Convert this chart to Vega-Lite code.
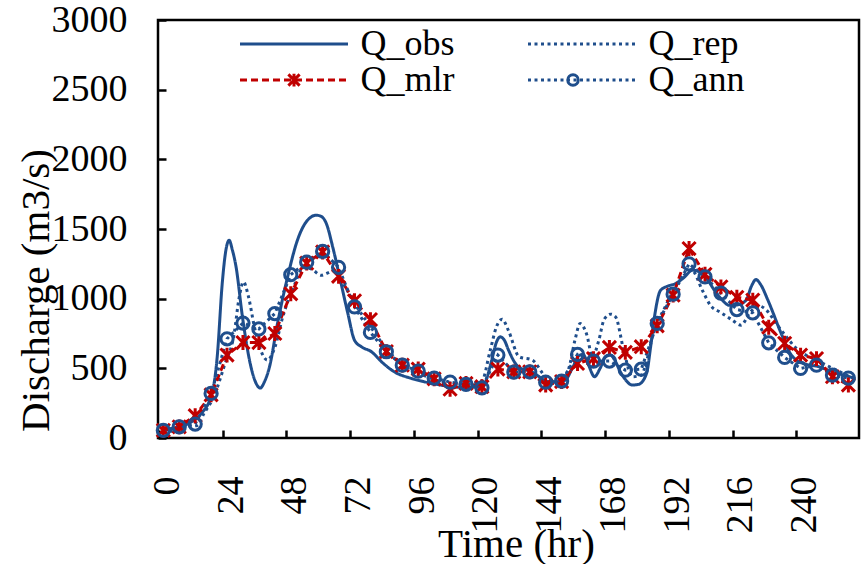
{
  "$schema": "https://vega.github.io/schema/vega-lite/v6.json",
  "width": 701,
  "height": 418,
  "autosize": {"type": "none"},
  "padding": {"left": 158, "top": 20, "right": 7, "bottom": 126},
  "background": "white",
  "config": {
    "view": {"stroke": "black", "strokeWidth": 2.5},
    "font": "Liberation Serif",
    "axis": {
      "grid": false, "domain": false,
      "tickColor": "black", "tickWidth": 2.5, "tickSize": -8,
      "labelFont": "Liberation Serif", "labelFontSize": 38, "labelColor": "black",
      "titleFont": "Liberation Serif", "titleFontWeight": "normal", "titleColor": "black"
    }
  },
  "data": {
    "values": [
      {"series":"Q_obs","hour":0,"discharge":50},{"series":"Q_obs","hour":2,"discharge":60},{"series":"Q_obs","hour":6,"discharge":78},{"series":"Q_obs","hour":10,"discharge":110},{"series":"Q_obs","hour":14,"discharge":170},{"series":"Q_obs","hour":18.4,"discharge":322},{"series":"Q_obs","hour":20.3,"discharge":583},{"series":"Q_obs","hour":22.2,"discharge":1111},{"series":"Q_obs","hour":23.5,"discharge":1340},{"series":"Q_obs","hour":24.8,"discharge":1419},{"series":"Q_obs","hour":26,"discharge":1350},{"series":"Q_obs","hour":27.4,"discharge":1228},{"series":"Q_obs","hour":29.8,"discharge":870},{"series":"Q_obs","hour":33,"discharge":511},{"series":"Q_obs","hour":35,"discharge":390},{"series":"Q_obs","hour":36.5,"discharge":358},{"series":"Q_obs","hour":38,"discharge":400},{"series":"Q_obs","hour":40,"discharge":511},{"series":"Q_obs","hour":43,"discharge":822},{"series":"Q_obs","hour":46.8,"discharge":1155},{"series":"Q_obs","hour":50.5,"discharge":1419},{"series":"Q_obs","hour":54.3,"discharge":1563},{"series":"Q_obs","hour":57.6,"discharge":1599},{"series":"Q_obs","hour":59.5,"discharge":1590},{"series":"Q_obs","hour":61.4,"discharge":1539},{"series":"Q_obs","hour":63.8,"discharge":1371},{"series":"Q_obs","hour":66.4,"discharge":1156},{"series":"Q_obs","hour":69.5,"discharge":894},{"series":"Q_obs","hour":72,"discharge":702},{"series":"Q_obs","hour":74.6,"discharge":655},{"series":"Q_obs","hour":78.4,"discharge":619},{"series":"Q_obs","hour":82.2,"discharge":547},{"series":"Q_obs","hour":87,"discharge":475},{"series":"Q_obs","hour":93,"discharge":430},{"series":"Q_obs","hour":98,"discharge":405},{"series":"Q_obs","hour":103,"discharge":385},{"series":"Q_obs","hour":108.6,"discharge":368},{"series":"Q_obs","hour":114.8,"discharge":363},{"series":"Q_obs","hour":120.4,"discharge":368},{"series":"Q_obs","hour":122,"discharge":440},{"series":"Q_obs","hour":123.7,"discharge":559},{"series":"Q_obs","hour":125.5,"discharge":690},{"series":"Q_obs","hour":126.9,"discharge":726},{"series":"Q_obs","hour":128.5,"discharge":700},{"series":"Q_obs","hour":130,"discharge":631},{"series":"Q_obs","hour":133.7,"discharge":511},{"series":"Q_obs","hour":138.8,"discharge":475},{"series":"Q_obs","hour":145,"discharge":404},{"series":"Q_obs","hour":148,"discharge":400},{"series":"Q_obs","hour":151.4,"discharge":416},{"series":"Q_obs","hour":154,"discharge":500},{"series":"Q_obs","hour":156.5,"discharge":590},{"series":"Q_obs","hour":158,"discharge":600},{"series":"Q_obs","hour":160,"discharge":530},{"series":"Q_obs","hour":162.4,"discharge":440},{"series":"Q_obs","hour":164.5,"discharge":500},{"series":"Q_obs","hour":166.5,"discharge":580},{"series":"Q_obs","hour":168.4,"discharge":595},{"series":"Q_obs","hour":170,"discharge":559},{"series":"Q_obs","hour":172,"discharge":480},{"series":"Q_obs","hour":174,"discharge":420},{"series":"Q_obs","hour":176.6,"discharge":380},{"series":"Q_obs","hour":179,"discharge":385},{"series":"Q_obs","hour":182,"discharge":464},{"series":"Q_obs","hour":183.5,"discharge":650},{"series":"Q_obs","hour":184.8,"discharge":846},{"series":"Q_obs","hour":187.3,"discharge":1061},{"series":"Q_obs","hour":190,"discharge":1090},{"series":"Q_obs","hour":193,"discharge":1109},{"series":"Q_obs","hour":196,"discharge":1150},{"series":"Q_obs","hour":199.3,"discharge":1204},{"series":"Q_obs","hour":203,"discharge":1180},{"series":"Q_obs","hour":208,"discharge":1049},{"series":"Q_obs","hour":211,"discharge":980},{"series":"Q_obs","hour":213,"discharge":953},{"series":"Q_obs","hour":216,"discharge":955},{"series":"Q_obs","hour":219.5,"discharge":989},{"series":"Q_obs","hour":221.5,"discharge":1090},{"series":"Q_obs","hour":223.2,"discharge":1137},{"series":"Q_obs","hour":225,"discharge":1100},{"series":"Q_obs","hour":227.7,"discharge":989},{"series":"Q_obs","hour":232.7,"discharge":750},{"series":"Q_obs","hour":235.7,"discharge":619},{"series":"Q_obs","hour":240.9,"discharge":535},{"series":"Q_obs","hour":247,"discharge":511},{"series":"Q_obs","hour":252,"discharge":475},{"series":"Q_obs","hour":258.4,"discharge":440},{"series":"Q_obs","hour":260,"discharge":432},
      {"series":"Q_rep","hour":0,"discharge":45},{"series":"Q_rep","hour":6,"discharge":60},{"series":"Q_rep","hour":9,"discharge":80},{"series":"Q_rep","hour":12.7,"discharge":90},{"series":"Q_rep","hour":15.4,"discharge":179},{"series":"Q_rep","hour":19,"discharge":296},{"series":"Q_rep","hour":23,"discharge":520},{"series":"Q_rep","hour":26.7,"discharge":752},{"series":"Q_rep","hour":28.5,"discharge":1000},{"series":"Q_rep","hour":30.2,"discharge":1120},{"series":"Q_rep","hour":32,"discharge":1020},{"series":"Q_rep","hour":34.3,"discharge":798},{"series":"Q_rep","hour":36.5,"discharge":640},{"series":"Q_rep","hour":39.2,"discharge":559},{"series":"Q_rep","hour":42,"discharge":650},{"series":"Q_rep","hour":45,"discharge":870},{"series":"Q_rep","hour":49,"discharge":1080},{"series":"Q_rep","hour":53,"discharge":1228},{"series":"Q_rep","hour":56,"discharge":1210},{"series":"Q_rep","hour":59.5,"discharge":1168},{"series":"Q_rep","hour":62,"discharge":1185},{"series":"Q_rep","hour":64.5,"discharge":1204},{"series":"Q_rep","hour":68,"discharge":1100},{"series":"Q_rep","hour":72,"discharge":967},{"series":"Q_rep","hour":78,"discharge":800},{"series":"Q_rep","hour":84,"discharge":640},{"series":"Q_rep","hour":90,"discharge":530},{"series":"Q_rep","hour":96,"discharge":470},{"series":"Q_rep","hour":102,"discharge":420},{"series":"Q_rep","hour":108,"discharge":395},{"series":"Q_rep","hour":114,"discharge":390},{"series":"Q_rep","hour":120,"discharge":410},{"series":"Q_rep","hour":123,"discharge":620},{"series":"Q_rep","hour":125.5,"discharge":800},{"series":"Q_rep","hour":127.6,"discharge":853},{"series":"Q_rep","hour":130,"discharge":770},{"series":"Q_rep","hour":134,"discharge":583},{"series":"Q_rep","hour":139,"discharge":559},{"series":"Q_rep","hour":144,"discharge":440},{"series":"Q_rep","hour":149,"discharge":404},{"series":"Q_rep","hour":152.5,"discharge":487},{"series":"Q_rep","hour":155,"discharge":700},{"series":"Q_rep","hour":157,"discharge":822},{"series":"Q_rep","hour":159.5,"discharge":740},{"series":"Q_rep","hour":161.6,"discharge":583},{"series":"Q_rep","hour":164,"discharge":700},{"series":"Q_rep","hour":166,"discharge":850},{"series":"Q_rep","hour":168.5,"discharge":889},{"series":"Q_rep","hour":170.3,"discharge":870},{"series":"Q_rep","hour":173.5,"discharge":620},{"series":"Q_rep","hour":176.6,"discharge":440},{"series":"Q_rep","hour":180,"discharge":450},{"series":"Q_rep","hour":182,"discharge":550},{"series":"Q_rep","hour":184.2,"discharge":726},{"series":"Q_rep","hour":189,"discharge":941},{"series":"Q_rep","hour":195.5,"discharge":1156},{"series":"Q_rep","hour":199,"discharge":1204},{"series":"Q_rep","hour":203,"discharge":1060},{"series":"Q_rep","hour":206,"discharge":953},{"series":"Q_rep","hour":210,"discharge":900},{"series":"Q_rep","hour":214,"discharge":850},{"series":"Q_rep","hour":217.6,"discharge":810},{"series":"Q_rep","hour":220.7,"discharge":894},{"series":"Q_rep","hour":224,"discharge":950},{"series":"Q_rep","hour":227,"discharge":920},{"series":"Q_rep","hour":230.8,"discharge":822},{"series":"Q_rep","hour":234.5,"discharge":730},{"series":"Q_rep","hour":238.4,"discharge":643},{"series":"Q_rep","hour":246,"discharge":559},{"series":"Q_rep","hour":253.5,"discharge":487},{"series":"Q_rep","hour":259.8,"discharge":428},
      {"series":"Q_mlr","hour":0,"discharge":55},{"series":"Q_mlr","hour":6,"discharge":80},{"series":"Q_mlr","hour":12,"discharge":160},{"series":"Q_mlr","hour":18,"discharge":310},{"series":"Q_mlr","hour":24,"discharge":595},{"series":"Q_mlr","hour":30,"discharge":685},{"series":"Q_mlr","hour":36,"discharge":685},{"series":"Q_mlr","hour":42,"discharge":750},{"series":"Q_mlr","hour":48,"discharge":1035},{"series":"Q_mlr","hour":54,"discharge":1255},{"series":"Q_mlr","hour":60,"discharge":1335},{"series":"Q_mlr","hour":66,"discharge":1160},{"series":"Q_mlr","hour":72,"discharge":985},{"series":"Q_mlr","hour":78,"discharge":850},{"series":"Q_mlr","hour":84,"discharge":620},{"series":"Q_mlr","hour":90,"discharge":523},{"series":"Q_mlr","hour":96,"discharge":495},{"series":"Q_mlr","hour":102,"discharge":425},{"series":"Q_mlr","hour":108,"discharge":350},{"series":"Q_mlr","hour":114,"discharge":392},{"series":"Q_mlr","hour":120,"discharge":368},{"series":"Q_mlr","hour":126,"discharge":495},{"series":"Q_mlr","hour":132,"discharge":475},{"series":"Q_mlr","hour":138,"discharge":475},{"series":"Q_mlr","hour":144,"discharge":380},{"series":"Q_mlr","hour":150,"discharge":405},{"series":"Q_mlr","hour":156,"discharge":535},{"series":"Q_mlr","hour":162,"discharge":570},{"series":"Q_mlr","hour":168,"discharge":650},{"series":"Q_mlr","hour":174,"discharge":615},{"series":"Q_mlr","hour":180,"discharge":655},{"series":"Q_mlr","hour":186,"discharge":805},{"series":"Q_mlr","hour":192,"discharge":1025},{"series":"Q_mlr","hour":198,"discharge":1360},{"series":"Q_mlr","hour":204,"discharge":1175},{"series":"Q_mlr","hour":210,"discharge":1085},{"series":"Q_mlr","hour":216,"discharge":1010},{"series":"Q_mlr","hour":222,"discharge":990},{"series":"Q_mlr","hour":228,"discharge":795},{"series":"Q_mlr","hour":234,"discharge":680},{"series":"Q_mlr","hour":240,"discharge":595},{"series":"Q_mlr","hour":246,"discharge":570},{"series":"Q_mlr","hour":252,"discharge":440},{"series":"Q_mlr","hour":258,"discharge":380},
      {"series":"Q_ann","hour":0,"discharge":55},{"series":"Q_ann","hour":6,"discharge":80},{"series":"Q_ann","hour":12,"discharge":100},{"series":"Q_ann","hour":18,"discharge":320},{"series":"Q_ann","hour":24,"discharge":712},{"series":"Q_ann","hour":30,"discharge":825},{"series":"Q_ann","hour":36,"discharge":783},{"series":"Q_ann","hour":42,"discharge":893},{"series":"Q_ann","hour":48,"discharge":1172},{"series":"Q_ann","hour":54,"discharge":1262},{"series":"Q_ann","hour":60,"discharge":1340},{"series":"Q_ann","hour":66,"discharge":1225},{"series":"Q_ann","hour":72,"discharge":941},{"series":"Q_ann","hour":78,"discharge":758},{"series":"Q_ann","hour":84,"discharge":619},{"series":"Q_ann","hour":90,"discharge":523},{"series":"Q_ann","hour":96,"discharge":480},{"series":"Q_ann","hour":102,"discharge":430},{"series":"Q_ann","hour":108,"discharge":401},{"series":"Q_ann","hour":114,"discharge":385},{"series":"Q_ann","hour":120,"discharge":360},{"series":"Q_ann","hour":126,"discharge":595},{"series":"Q_ann","hour":132,"discharge":473},{"series":"Q_ann","hour":138,"discharge":475},{"series":"Q_ann","hour":144,"discharge":401},{"series":"Q_ann","hour":150,"discharge":409},{"series":"Q_ann","hour":156,"discharge":600},{"series":"Q_ann","hour":162,"discharge":552},{"series":"Q_ann","hour":168,"discharge":552},{"series":"Q_ann","hour":174,"discharge":487},{"series":"Q_ann","hour":180,"discharge":494},{"series":"Q_ann","hour":186,"discharge":822},{"series":"Q_ann","hour":192,"discharge":1032},{"series":"Q_ann","hour":198,"discharge":1250},{"series":"Q_ann","hour":204,"discharge":1156},{"series":"Q_ann","hour":210,"discharge":1040},{"series":"Q_ann","hour":216,"discharge":922},{"series":"Q_ann","hour":222,"discharge":898},{"series":"Q_ann","hour":228,"discharge":683},{"series":"Q_ann","hour":234,"discharge":578},{"series":"Q_ann","hour":240,"discharge":499},{"series":"Q_ann","hour":246,"discharge":523},{"series":"Q_ann","hour":252,"discharge":452},{"series":"Q_ann","hour":258,"discharge":430}
    ]
  },
  "encoding": {
    "x": {
      "field": "hour", "type": "quantitative",
      "scale": {"domain": [-2, 262], "nice": false, "zero": false},
      "axis": {
        "values": [0, 24, 48, 72, 96, 120, 144, 168, 192, 216, 240],
        "labelAngle": 270, "tickOffset": -4.3, "labelOffset": 8.3, "labelPadding": 46,
        "title": "Time (hr)", "titleFontSize": 41, "titleX": 358, "titleY": 118,
        "titleAlign": "center", "titleBaseline": "alphabetic"
      }
    },
    "y": {
      "field": "discharge", "type": "quantitative",
      "scale": {"domain": [0, 3000], "nice": false},
      "axis": {
        "values": [0, 500, 1000, 1500, 2000, 2500, 3000], "format": "d",
        "labelPadding": 39,
        "title": "Discharge (m3/s)", "titleFontSize": 41, "titleX": -122, "titleY": 270,
        "titleAngle": 270, "titleAlign": "center", "titleBaseline": "middle"
      }
    }
  },
  "layer": [
    {
      "transform": [{"filter": "datum.series == 'Q_obs' || datum.series == 'Q_rep'"}],
      "mark": {"type": "line", "interpolate": "monotone", "strokeWidth": 3},
      "encoding": {
        "color": {"field": "series", "type": "nominal",
          "scale": {"domain": ["Q_obs", "Q_rep", "Q_mlr", "Q_ann"], "range": ["#1F4E8C", "#1F4E8C", "#C00000", "#1F4E8C"]},
          "legend": {"orient": "none", "direction": "horizontal", "legendX": 118, "legendY": 6, "columns": 2, "title": null, "symbolType": "M-9,0L9,0", "symbolSize": 144, "symbolStrokeWidth": 3, "labelFont": "Liberation Serif", "labelFontSize": 36, "labelColor": "black", "labelOffset": 48.5, "symbolOffset": 0, "columnPadding": 67, "rowPadding": 0, "padding": 0, "labelLimit": 0}},
        "strokeDash": {"field": "series", "type": "nominal",
          "scale": {"domain": ["Q_obs", "Q_rep", "Q_mlr", "Q_ann"], "range": [[1, 0], [3, 3.5], [7, 4], [3, 3.5]]},
          "legend": {"orient": "none", "direction": "horizontal", "legendX": 118, "legendY": 6, "columns": 2, "title": null, "symbolType": "M-9,0L9,0", "symbolSize": 144, "symbolStrokeWidth": 3, "labelFont": "Liberation Serif", "labelFontSize": 36, "labelColor": "black", "labelOffset": 48.5, "symbolOffset": 0, "columnPadding": 67, "rowPadding": 0, "padding": 0, "labelLimit": 0}}
      }
    },
    {
      "transform": [{"filter": "datum.series == 'Q_mlr' || datum.series == 'Q_ann'"}],
      "mark": {"type": "line", "strokeWidth": 3},
      "encoding": {
        "color": {"field": "series", "type": "nominal"},
        "strokeDash": {"field": "series", "type": "nominal"}
      }
    },
    {
      "transform": [{"filter": "datum.series == 'Q_mlr' || datum.series == 'Q_ann'"}],
      "mark": {"type": "point", "filled": false, "size": 306, "strokeWidth": 3, "opacity": 1},
      "encoding": {
        "stroke": {"field": "series", "type": "nominal",
          "scale": {"domain": ["Q_obs", "Q_rep", "Q_mlr", "Q_ann", "none"], "range": ["#1F4E8C", "#1F4E8C", "#C00000", "#1F4E8C", "#1F4E8C"]},
          "legend": {"orient": "none", "direction": "horizontal", "legendX": 118, "legendY": 6, "columns": 2, "title": null, "values": ["Q_obs", "Q_rep", "Q_mlr", "Q_ann"], "symbolSize": 225, "symbolStrokeWidth": 3, "symbolOpacity": 1, "symbolFillColor": "transparent", "labelFont": "Liberation Serif", "labelFontSize": 36, "labelExpr": "' '", "labelOffset": 48.5, "symbolOffset": 0, "columnPadding": 152, "rowPadding": 0, "padding": 0, "labelLimit": 0}},
        "shape": {"field": "series", "type": "nominal",
          "scale": {"domain": ["Q_obs", "Q_rep", "Q_mlr", "Q_ann", "none"],
            "range": ["M-7.2,0M7.2,0", "M-7.2,0M7.2,0", "M-7.2,0M7.2,0M-0.75,-0.75L0.75,0.75M-0.75,0.75L0.75,-0.75M0,-0.85L0,0.85", "M-7.2,0M7.2,0M0.7,0A0.7,0.7,0,1,1,-0.7,0A0.7,0.7,0,1,1,0.7,0Z", "M-7.2,0M7.2,0"]},
          "legend": {"orient": "none", "direction": "horizontal", "legendX": 118, "legendY": 6, "columns": 2, "title": null, "values": ["Q_obs", "Q_rep", "Q_mlr", "Q_ann"], "symbolSize": 225, "symbolStrokeWidth": 3, "symbolOpacity": 1, "symbolFillColor": "transparent", "labelFont": "Liberation Serif", "labelFontSize": 36, "labelExpr": "' '", "labelOffset": 48.5, "symbolOffset": 0, "columnPadding": 152, "rowPadding": 0, "padding": 0, "labelLimit": 0}}
      }
    }
  ]
}
